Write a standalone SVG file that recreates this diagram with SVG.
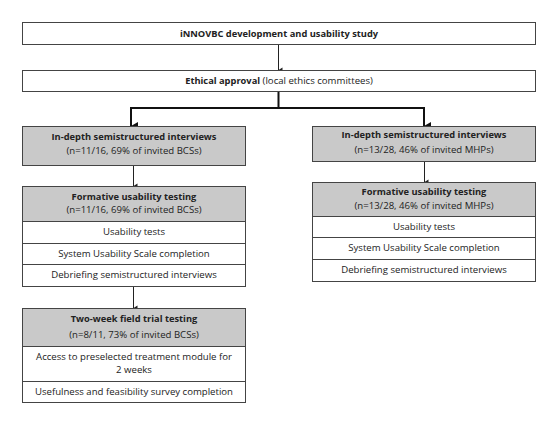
<svg xmlns="http://www.w3.org/2000/svg" width="559" height="422" viewBox="0 0 559 422">
<defs>
<marker id="ah" markerWidth="6" markerHeight="6" refX="3" refY="5" orient="auto" markerUnits="userSpaceOnUse"><path d="M0.5,1 L3,5 L5.5,1 Z" fill="#222"/></marker>
<marker id="ahb" markerWidth="10" markerHeight="10" refX="5" refY="8" orient="auto" markerUnits="userSpaceOnUse"><path d="M1,1 L5,8 L9,1 Z" fill="#111"/></marker>
</defs>
<style>
.box{fill:#fff;stroke:#444;stroke-width:1}
.g{fill:#c9c9c9;stroke:#444;stroke-width:1}
text{font-family:"Open Sans","Liberation Sans",sans-serif;font-size:9.6px;fill:#222;text-anchor:middle}
.b{font-weight:bold;font-size:9.3px}
.c{stroke:#222;stroke-width:1;fill:none}
.ct{stroke:#111;stroke-width:2;fill:none}
</style>
<g id="connectors">
<line class="c" x1="278.5" y1="44" x2="278.5" y2="70" marker-end="url(#ah)"/>
<path class="ct" d="M278.5,91 V108 M131,108 H424"/>
<line class="ct" x1="131" y1="107" x2="131" y2="126" marker-end="url(#ahb)"/>
<line class="ct" x1="424" y1="107" x2="424" y2="126" marker-end="url(#ahb)"/>
<line class="c" x1="133.5" y1="165" x2="133.5" y2="186" marker-end="url(#ah)"/>
<line class="c" x1="133.5" y1="286" x2="133.5" y2="308" marker-end="url(#ah)"/>
<line class="c" x1="424.5" y1="161" x2="424.5" y2="182" marker-end="url(#ah)"/>
</g>
<g id="study">
<rect class="box" x="22.5" y="22.5" width="513" height="22"/>
<text class="b" x="279" y="37">iNNOVBC development and usability study</text>
</g>
<g id="ethics">
<rect class="box" x="22.5" y="70.5" width="513" height="21"/>
<text x="279" y="84"><tspan class="b">Ethical approval</tspan> (local ethics committees)</text>
</g>
<g id="interviews-bcs">
<rect class="g" x="22.5" y="126.5" width="223" height="39"/>
<text class="b" x="134" y="140">In-depth semistructured interviews</text>
<text x="134" y="154">(n=11/16, 69% of invited BCSs)</text>
</g>
<g id="interviews-mhp">
<rect class="g" x="312.5" y="126.5" width="223" height="35"/>
<text class="b" x="424" y="138">In-depth semistructured interviews</text>
<text x="424" y="153">(n=13/28, 46% of invited MHPs)</text>
</g>
<g id="formative-bcs">
<rect class="g" x="22.5" y="186.5" width="223" height="35"/>
<text class="b" x="134" y="200">Formative usability testing</text>
<text x="134" y="213">(n=11/16, 69% of invited BCSs)</text>
<rect class="box" x="22.5" y="221.5" width="223" height="22"/>
<text x="134" y="235">Usability tests</text>
<rect class="box" x="22.5" y="243.5" width="223" height="21"/>
<text x="134" y="257">System Usability Scale completion</text>
<rect class="box" x="22.5" y="264.5" width="223" height="22"/>
<text x="134" y="278">Debriefing semistructured interviews</text>
</g>
<g id="formative-mhp">
<rect class="g" x="312.5" y="182.5" width="223" height="34"/>
<text class="b" x="424" y="195">Formative usability testing</text>
<text x="424" y="209">(n=13/28, 46% of invited MHPs)</text>
<rect class="box" x="312.5" y="216.5" width="223" height="21"/>
<text x="424" y="230">Usability tests</text>
<rect class="box" x="312.5" y="237.5" width="223" height="22"/>
<text x="424" y="251">System Usability Scale completion</text>
<rect class="box" x="312.5" y="259.5" width="223" height="22"/>
<text x="424" y="273">Debriefing semistructured interviews</text>
</g>
<g id="field-trial">
<rect class="g" x="22.5" y="308.5" width="223" height="38"/>
<text class="b" x="134" y="322">Two-week field trial testing</text>
<text x="134" y="338">(n=8/11, 73% of invited BCSs)</text>
<rect class="box" x="22.5" y="346.5" width="223" height="35"/>
<text x="134" y="360">Access to preselected treatment module for</text>
<text x="134" y="373">2 weeks</text>
<rect class="box" x="22.5" y="381.5" width="223" height="21"/>
<text x="134" y="395">Usefulness and feasibility survey completion</text>
</g>
</svg>
